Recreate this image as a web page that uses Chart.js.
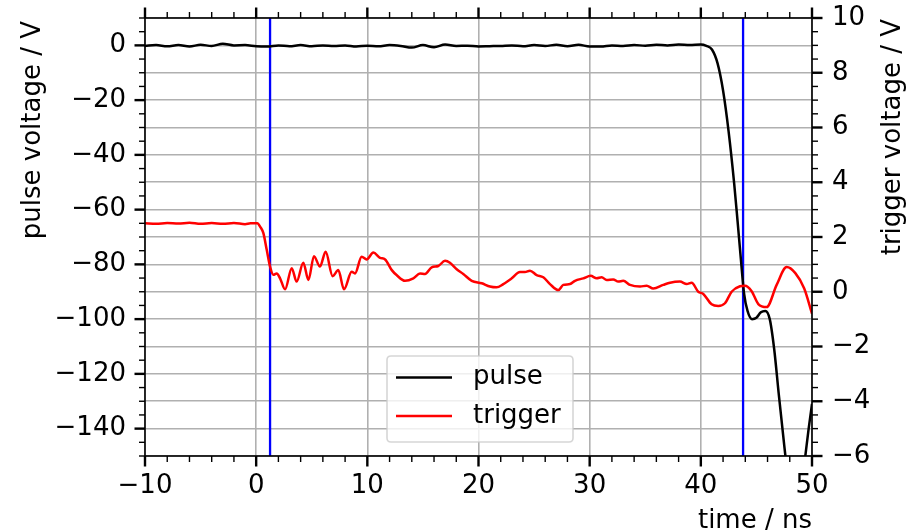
<!DOCTYPE html>
<html><head><meta charset="utf-8">
<script src="https://cdn.jsdelivr.net/npm/chart.js@4/dist/chart.umd.min.js"></script>
<style>html,body{margin:0;padding:0;background:#fff}#wrap{width:916px;height:532px;position:relative}</style>
</head><body><div id="wrap"><canvas id="c" width="916" height="532"></canvas></div>
<script>
// ---- data ----
const pulseTime = [-10,-9,-8,-7,-6,-5,-4,-3,-2,-1,0,1,2,3,4,5,6,7,8,9,10,11,12,13,14,15,16,17,18,19,20,21,22,23,24,25,26,27,28,29,30,31,32,33,34,35,36,37,38,39,40,
  40.5,41,41.5,42,42.5,43,43.3,43.6,43.9,44.2,44.6,45,45.4,45.8,46.2,46.6,47,47.5,48,48.5,49,49.4,49.7,50];
const pulseVoltage = [-0.2,0.1,-0.3,0.1,-0.4,0.2,-0.2,0.6,0.0,0.1,-0.3,-0.4,0.0,-0.3,0.1,-0.3,0.0,-0.2,0.0,-0.4,-0.1,-0.3,0.1,-0.2,-0.8,0.1,-0.7,0.3,-0.2,-0.1,-0.4,-0.3,-0.2,0.0,-0.3,0.1,-0.2,0.2,-0.3,0.2,-0.4,-0.4,0.0,-0.2,0.1,-0.1,0.2,0.0,0.3,0.1,0.3,
  -0.2,-1.5,-6.5,-16.5,-31.5,-50.5,-64,-78,-91,-97,-100,-99.5,-97.5,-97,-100,-111,-127,-146,-163,-172,-163,-150,-140,-131];
const triggerTime = [-10,-9,-8,-7,-6,-5,-4,-3,-2,-1,
  -0.5,0.1,0.4,0.65,0.95,1.25,1.55,1.85,2.15,2.6,
  3.2,3.64,4.24,4.7,5.2,5.74,6.25,6.88,7.39,7.9,
  8.59,8.89,9.49,9.94,10.54,11.14,11.6,12.2,12.63,13.39,
  14.14,14.74,15.19,15.79,16.38,16.99,17.43,18.04,18.63,19.39,
  20.29,21.03,21.63,22.23,22.99,23.73,24.18,24.63,25.23,25.83,
  26.43,27.18,27.63,28.23,28.68,29.43,30.09,30.63,31.08,31.53,
  32.12,32.57,33.02,33.63,34.53,35.13,35.72,36.62,37.23,38.12,
  38.73,39.17,39.77,40.22,40.97,41.57,42.17,42.77,43.52,43.97,
  44.57,45.17,45.92,46.82,47.72,48.5,49.3,50];
const triggerVoltage = [2.5,2.48,2.51,2.49,2.52,2.48,2.51,2.48,2.51,2.47,
  2.5,2.5,2.35,2.14,1.53,0.92,0.62,0.67,0.49,0.09,
  0.86,0.37,1.06,0.43,1.3,0.92,1.46,0.57,0.79,0.09,
  0.73,0.67,1.28,1.18,1.43,1.24,1.18,0.79,0.61,0.40,
  0.49,0.67,0.65,0.89,0.94,1.13,1.06,0.82,0.65,0.40,
  0.31,0.19,0.16,0.28,0.49,0.72,0.72,0.77,0.61,0.53,
  0.28,0.06,0.25,0.28,0.40,0.49,0.58,0.49,0.53,0.43,
  0.45,0.37,0.40,0.25,0.19,0.22,0.12,0.25,0.33,0.37,
  0.28,0.33,0.0,-0.08,-0.46,-0.52,-0.42,0.0,0.2,0.22,
  0.02,-0.45,-0.56,0.25,0.9,0.68,0.12,-0.8];
const markerTimes = [1.25, 43.8];
const xTicks = [-10,0,10,20,30,40,50];
const leftTicks = [-140,-120,-100,-80,-60,-40,-20,0];
const rightTicks = [-6,-4,-2,0,2,4,6,8,10];
const seriesNames = ['pulse','trigger'];
const xTitle = 'time / ns';
const leftTitle = 'pulse voltage / V';
const rightTitle = 'trigger voltage / V';

// ---- styling ----
const FONT = 'DejaVu Sans';
const FS = 26;
const GRID = '#b0b0b0';
const fmt = v => (v < 0 ? '\u2212' + Math.abs(v) : String(v));
const MINOR = {x: 2, y: 5, y2: 0.5};
const MAJOR = {x: 10, y: 20, y2: 2};

const setTicks = list => axis => { axis.ticks = list.map(v => ({value: v})); };
const fitBox = (w, h) => s => {
  if (w !== null) s.width = w;
  if (h !== null) s.height = h;
  s.paddingTop = 0; s.paddingBottom = 0; s.paddingLeft = 0; s.paddingRight = 0;
};

const frame = {
  id: 'frame',
  afterDatasetsDraw(chart) {
    const {ctx, chartArea: a, scales} = chart;
    ctx.save();
    ctx.strokeStyle = '#000';
    ctx.lineCap = 'butt';
    const line = (x1, y1, x2, y2, w) => { ctx.lineWidth = w; ctx.beginPath(); ctx.moveTo(x1, y1); ctx.lineTo(x2, y2); ctx.stroke(); };
    const ML = 10.5, mL = 6, MW = 2.4, mW = 1.4;
    const each = (scale, id, fn) => {
      const n = Math.round((scale.max - scale.min) / MINOR[id]);
      for (let k = 0; k <= n; k++) {
        const v = scale.min + k * MINOR[id];
        const major = Math.abs(v / MAJOR[id] - Math.round(v / MAJOR[id])) < 1e-6;
        fn(scale.getPixelForValue(v), major);
      }
    };
    each(scales.x, 'x', (p, M) => {
      line(p, a.bottom, p, a.bottom + (M ? ML : mL), M ? MW : mW);
      line(p, a.top, p, a.top - (M ? ML : mL), M ? MW : mW);
    });
    each(scales.y, 'y', (p, M) => line(a.left, p, a.left - (M ? ML : mL), p, M ? MW : mW));
    each(scales.y2, 'y2', (p, M) => line(a.right, p, a.right + (M ? ML : mL), p, M ? MW : mW));
    ctx.lineWidth = 1.6;
    ctx.strokeRect(a.left, a.top, a.right - a.left, a.bottom - a.top);
    ctx.restore();
  },
  afterDraw(chart) {
    const {ctx, chartArea: a} = chart;
    ctx.save();
    ctx.fillStyle = '#000';
    ctx.font = FS + 'px "' + FONT + '"';
    ctx.textAlign = 'right'; ctx.textBaseline = 'alphabetic';
    ctx.fillText(xTitle, a.right, 528);
    ctx.save(); ctx.translate(33, a.top + 3); ctx.rotate(-Math.PI / 2);
    ctx.textAlign = 'right'; ctx.textBaseline = 'middle';
    ctx.fillText(leftTitle, 0, 0); ctx.restore();
    ctx.save(); ctx.translate(893, a.top + 1); ctx.rotate(-Math.PI / 2);
    ctx.textAlign = 'right'; ctx.textBaseline = 'middle';
    ctx.fillText(rightTitle, 0, 0); ctx.restore();
    // legend
    const bx = 387, by = 356, bw = 186, bh = 86, r = 4;
    ctx.beginPath();
    ctx.moveTo(bx + r, by); ctx.lineTo(bx + bw - r, by); ctx.quadraticCurveTo(bx + bw, by, bx + bw, by + r);
    ctx.lineTo(bx + bw, by + bh - r); ctx.quadraticCurveTo(bx + bw, by + bh, bx + bw - r, by + bh);
    ctx.lineTo(bx + r, by + bh); ctx.quadraticCurveTo(bx, by + bh, bx, by + bh - r);
    ctx.lineTo(bx, by + r); ctx.quadraticCurveTo(bx, by, bx + r, by);
    ctx.closePath();
    ctx.fillStyle = 'rgba(255,255,255,0.8)'; ctx.fill();
    ctx.strokeStyle = 'rgba(204,204,204,0.8)'; ctx.lineWidth = 1.6; ctx.stroke();
    const ds = chart.data.datasets;
    seriesNames.forEach((name, i) => {
      const y = 377.5 + i * 38.5;
      ctx.strokeStyle = ds[i].borderColor; ctx.lineWidth = 2.5;
      ctx.beginPath(); ctx.moveTo(396, y); ctx.lineTo(452, y); ctx.stroke();
      ctx.fillStyle = '#000'; ctx.textAlign = 'left'; ctx.textBaseline = 'middle';
      ctx.fillText(name, 473, y);
    });
    ctx.restore();
  }
};

const tickFont = {family: FONT, size: FS};
const gridOpt = {color: GRID, lineWidth: 1.6, drawTicks: false};

new Chart(document.getElementById('c'), {
  type: 'line',
  data: {
    datasets: [
      {label: seriesNames[0], data: pulseTime.map((t, i) => ({x: t, y: pulseVoltage[i]})), yAxisID: 'y',
       borderColor: '#000000', borderWidth: 2.5, pointRadius: 0, cubicInterpolationMode: 'monotone', order: 1},
      {label: seriesNames[1], data: triggerTime.map((t, i) => ({x: t, y: triggerVoltage[i]})), yAxisID: 'y2',
       borderColor: '#ff0000', borderWidth: 2.5, pointRadius: 0, cubicInterpolationMode: 'monotone', order: 0},
      ...markerTimes.map(t => ({label: 'marker', data: [{x: t, y: -150}, {x: t, y: 10}], yAxisID: 'y',
       borderColor: '#0000ff', borderWidth: 2.3, pointRadius: 0, order: 2}))
    ]
  },
  options: {
    responsive: false, animation: false, devicePixelRatio: 1,
    layout: {padding: {top: 18, left: 0, right: 0, bottom: 0}},
    plugins: {legend: {display: false}, tooltip: {enabled: false}},
    scales: {
      x: {type: 'linear', min: -10, max: 50, afterBuildTicks: setTicks(xTicks),
          afterFit: fitBox(null, 76),
          grid: gridOpt, border: {display: false},
          ticks: {font: tickFont, color: '#000', padding: 15, maxRotation: 0, autoSkip: false, callback: fmt}},
      y: {type: 'linear', position: 'left', min: -150, max: 10, afterBuildTicks: setTicks(leftTicks),
          afterFit: fitBox(145, null),
          grid: gridOpt, border: {display: false},
          ticks: {font: tickFont, color: '#000', padding: 19, autoSkip: false, callback: fmt}},
      y2: {type: 'linear', position: 'right', min: -6, max: 10, afterBuildTicks: setTicks(rightTicks),
          afterFit: fitBox(104, null),
          grid: gridOpt, border: {display: false},
          ticks: {font: tickFont, color: '#000', padding: 20, autoSkip: false, callback: fmt}}
    }
  },
  plugins: [frame]
});
</script></body></html>
